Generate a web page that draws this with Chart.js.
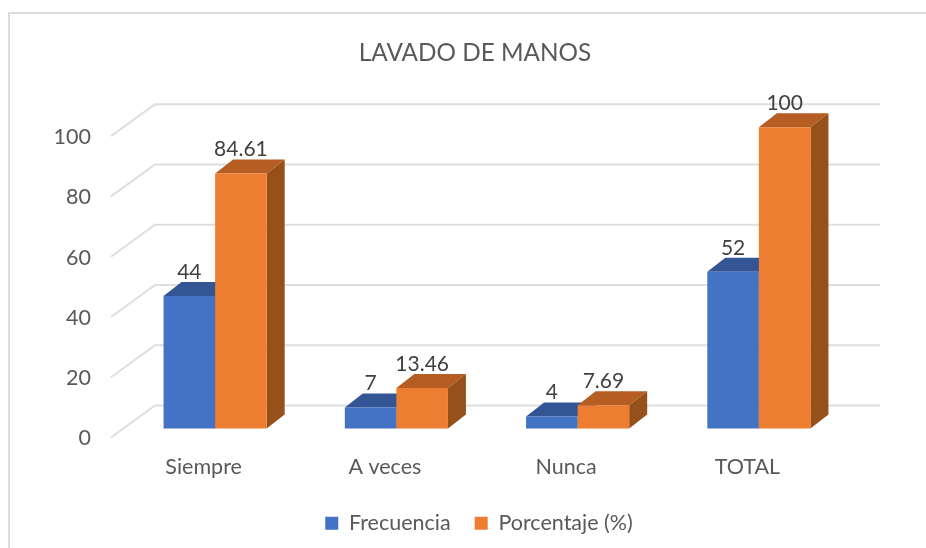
<!DOCTYPE html>
<html><head><meta charset="utf-8">
<script src="https://cdn.jsdelivr.net/npm/chart.js@4/dist/chart.umd.min.js"></script>
<style>
html,body{margin:0;padding:0;background:#fff;overflow:hidden;width:926px;height:548px}
#wrap{position:absolute;left:0;top:0;width:950px;height:548px}
#frame{position:absolute;left:8px;top:12px;width:940px;height:560px;border-left:2px solid #dcdcdc;border-top:2px solid #dcdcdc;pointer-events:none}
</style></head><body>
<div id="wrap"><canvas id="c" width="950" height="548"></canvas></div>
<div id="frame"></div>
<script>
const categories = ["Siempre","A veces","Nunca","TOTAL"];
const frecuencia = [44,7,4,52];
const porcentaje = [84.61,13.46,7.69,100];
const chartTitle = "LAVADO DE MANOS";

const FONT = "Lato, Carlito, Calibri, sans-serif";
const BAR_SHIFT = {x:11.5,y:-10};
const DEPTH = {x:18,y:14};
const WALL = {x:42,y:-33};
const LABEL_GAP = 24;
const faces = [{top:"#335593",side:"#2f5597"},{top:"#b55d22",side:"#96511b"}];

const threeD = {
  id:"threeD",
  afterLayout(chart){
    chart.legend.top -= 4; chart.legend.bottom -= 4;
    chart.legend.left += 4; chart.legend.right += 4;
  },
  beforeDatasetsDraw(chart){
    const {ctx,scales:{y},chartArea:a}=chart;
    ctx.save();
    ctx.strokeStyle="#dedede";ctx.lineWidth=2;
    y.ticks.forEach(t=>{
      const py=y.getPixelForValue(t.value);
      ctx.beginPath();
      ctx.moveTo(a.left-2,py-1);
      ctx.lineTo(a.left+WALL.x,py+WALL.y);
      ctx.lineTo(a.right+WALL.x,py+WALL.y);
      ctx.stroke();
    });
    ctx.translate(BAR_SHIFT.x,BAR_SHIFT.y);
    chart.data.datasets.forEach((d,i)=>{
      const meta=chart.getDatasetMeta(i), f=faces[i];
      meta.data.forEach(b=>{
        const l=b.x-b.width/2,r=b.x+b.width/2,t=b.y,bs=b.base;
        ctx.fillStyle=f.top;
        ctx.beginPath();ctx.moveTo(l,t);ctx.lineTo(l+DEPTH.x,t-DEPTH.y);ctx.lineTo(r+DEPTH.x,t-DEPTH.y);ctx.lineTo(r,t);ctx.closePath();ctx.fill();
        ctx.fillStyle=f.side;
        ctx.beginPath();ctx.moveTo(r,t);ctx.lineTo(r+DEPTH.x,t-DEPTH.y);ctx.lineTo(r+DEPTH.x,bs-DEPTH.y);ctx.lineTo(r,bs);ctx.closePath();ctx.fill();
      });
      meta.controller.draw();
    });
    ctx.restore();
  },
  beforeDatasetDraw(){return false;},
  afterDatasetsDraw(chart){
    const {ctx}=chart;
    ctx.save();
    ctx.font="21px "+FONT;ctx.fillStyle="#404040";ctx.textAlign="center";ctx.textBaseline="middle";
    chart.data.datasets.forEach((d,i)=>{
      chart.getDatasetMeta(i).data.forEach((b,j)=>{
        ctx.fillText(String(d.data[j]),b.x+BAR_SHIFT.x,b.y+BAR_SHIFT.y-LABEL_GAP);
      });
    });
    ctx.restore();
  }
};

new Chart(document.getElementById("c"),{
  type:"bar",
  data:{labels:categories,datasets:[
    {label:"Frecuencia",data:frecuencia,backgroundColor:"#4472c4"},
    {label:"Porcentaje (%)",data:porcentaje,backgroundColor:"#ed7d31"}
  ]},
  plugins:[threeD],
  options:{
    responsive:false,animation:false,
    datasets:{bar:{categoryPercentage:0.569,barPercentage:1,borderWidth:0}},
    plugins:{
      title:{display:true,text:chartTitle,color:"#595959",font:{family:FONT,size:24.3,weight:"normal"},padding:{top:39,bottom:69}},
      legend:{position:"bottom",labels:{boxWidth:13,boxHeight:13,color:"#595959",padding:24,font:{family:FONT,size:21.5}}},
      tooltip:{enabled:false}
    },
    scales:{
      x:{grid:{display:false,drawTicks:false},border:{display:false},
         ticks:{color:"#595959",padding:16,font:{family:FONT,size:21.5},maxRotation:0},
         afterFit(s){s.height=54;}},
      y:{min:0,max:100,grid:{display:false,drawTicks:false},border:{display:false},
         ticks:{stepSize:20,color:"#595959",padding:22,font:{family:FONT,size:21.5}},
         afterFit(s){s.width=113;}},
      spacer:{position:"right",min:0,max:100,grid:{display:false,drawTicks:false},border:{display:false},
         ticks:{display:false},afterFit(s){s.width=112;}}
    }
  }
});
</script></body></html>
